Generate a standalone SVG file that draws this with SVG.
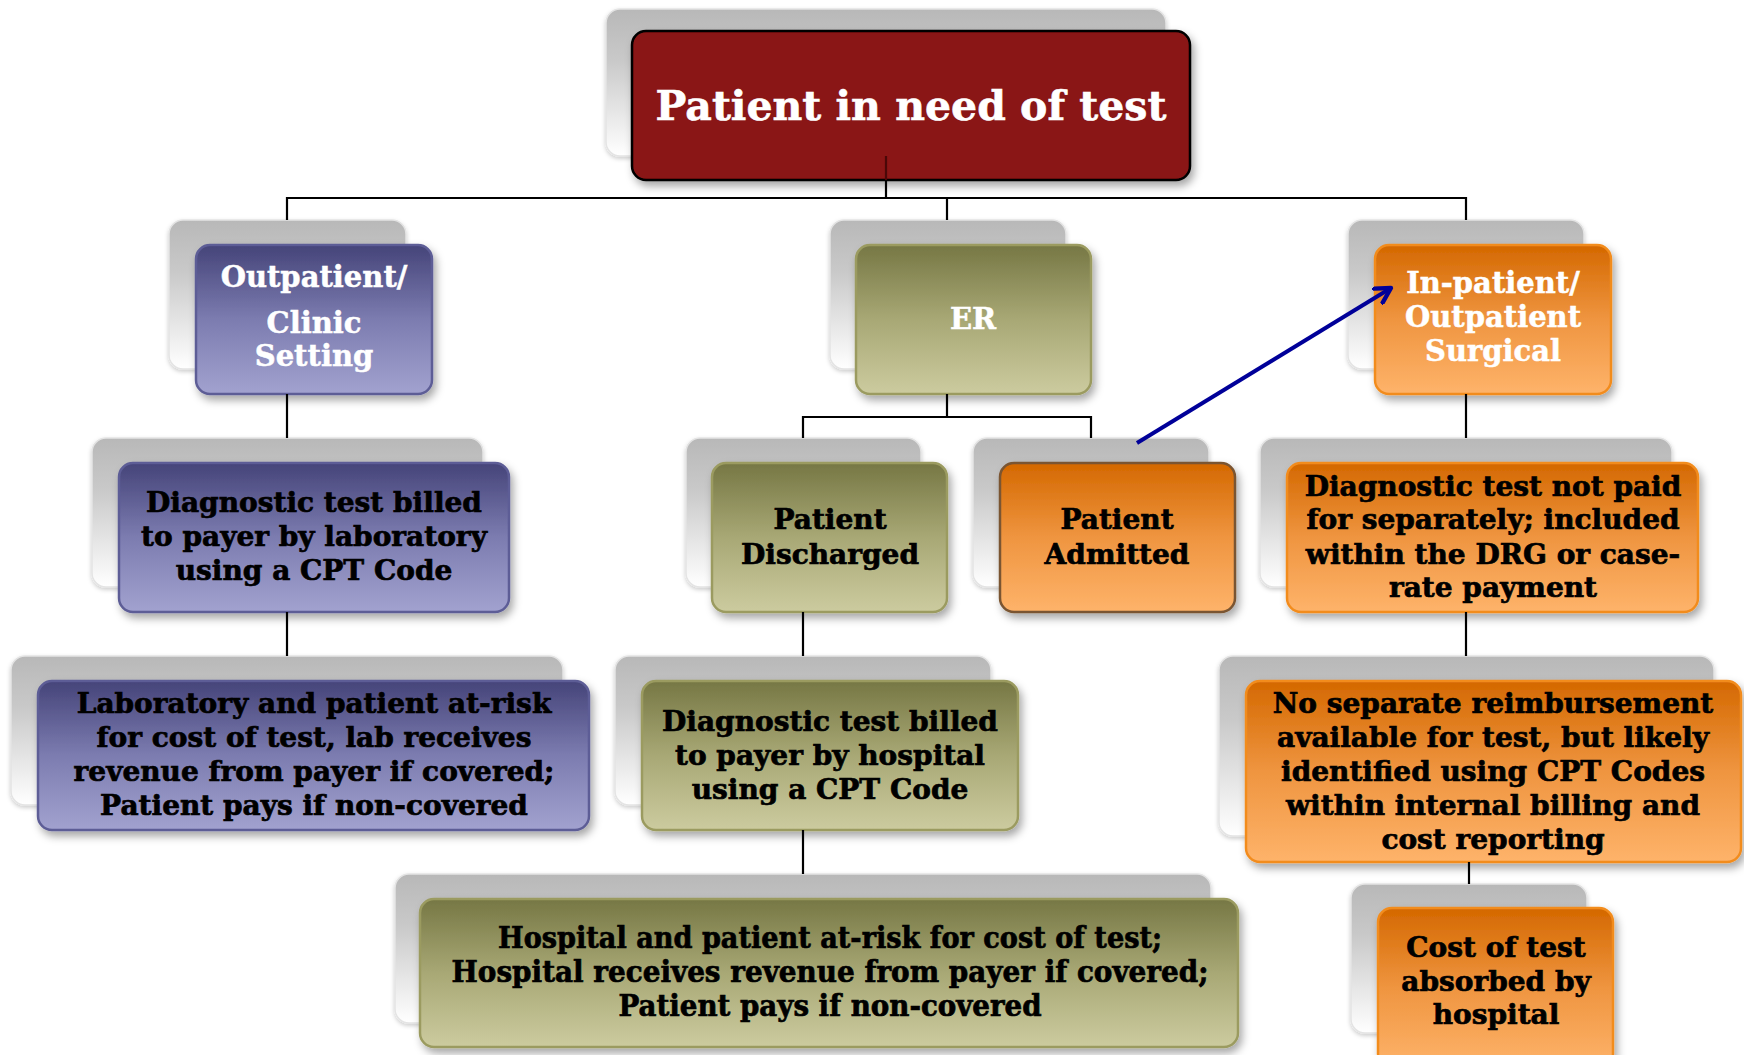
<svg xmlns="http://www.w3.org/2000/svg" width="1744" height="1055" viewBox="0 0 1744 1055">
<defs>
<linearGradient id="gCard" x1="0" y1="0" x2="0" y2="1">
<stop offset="0" stop-color="#b8b8b8"/><stop offset="0.35" stop-color="#c9c9c9"/><stop offset="1" stop-color="#ffffff"/>
</linearGradient>
<linearGradient id="gBlue" x1="0" y1="0" x2="0" y2="1">
<stop offset="0" stop-color="#454479"/><stop offset="0.5" stop-color="#7c7cb0"/><stop offset="1" stop-color="#a2a2cf"/>
</linearGradient>
<linearGradient id="gOlive" x1="0" y1="0" x2="0" y2="1">
<stop offset="0" stop-color="#767744"/><stop offset="0.5" stop-color="#a8a875"/><stop offset="1" stop-color="#cccb9f"/>
</linearGradient>
<linearGradient id="gOrange" x1="0" y1="0" x2="0" y2="1">
<stop offset="0" stop-color="#d46800"/><stop offset="0.5" stop-color="#ef9540"/><stop offset="1" stop-color="#feb36a"/>
</linearGradient>
<filter id="sh" x="-10%" y="-10%" width="125%" height="130%">
<feDropShadow dx="3" dy="5" stdDeviation="4" flood-color="#000" flood-opacity="0.35"/>
</filter>
<filter id="sh2" x="-10%" y="-10%" width="125%" height="130%">
<feDropShadow dx="0" dy="2" stdDeviation="2" flood-color="#000" flood-opacity="0.2"/>
</filter>
<marker id="arr" viewBox="0 0 12 12" refX="10" refY="6" markerWidth="5" markerHeight="5" orient="auto" markerUnits="strokeWidth">
<path d="M1,1 L10,6 L1,11" fill="none" stroke="#000099" stroke-width="2.6" stroke-linecap="round" stroke-linejoin="round"/>
</marker>
</defs>
<style>
.card{fill:url(#gCard);stroke:#e4e4e4;stroke-width:1.5;filter:url(#sh2)}
.red{fill:#8a1616;stroke:#000;stroke-width:2.5;filter:url(#sh)}
.blue{fill:url(#gBlue);stroke:#5d5d96;stroke-width:2.5;filter:url(#sh)}
.olive{fill:url(#gOlive);stroke:#9b9b60;stroke-width:2.5;filter:url(#sh)}
.orange{fill:url(#gOrange);stroke:#f28c1f;stroke-width:2.5;filter:url(#sh)}
.orange2{fill:url(#gOrange);stroke:#7a5430;stroke-width:2.5;filter:url(#sh)}
text{font-family:"DejaVu Serif","Liberation Serif",serif;font-weight:bold;text-anchor:middle}
.w{fill:#fff;font-size:29px;stroke:#fff;stroke-width:0.5}
.b{fill:#000;font-size:28px;stroke:#000;stroke-width:0.7}
.t{fill:#fff;font-size:41px;stroke:#fff;stroke-width:0.6}
.c{fill:#000;font-size:29px;stroke:#000;stroke-width:0.7}
.ln{fill:none;stroke:#000;stroke-width:2.2}
</style>
<g id="n-top">
<rect class="card" x="606" y="9" width="560" height="147" rx="14"/>
<rect class="red" x="632" y="31" width="558" height="149" rx="14"/>
<text class="t" x="911" y="120">Patient in need of test</text>
</g>
<g id="n-outpatient">
<rect class="card" x="169" y="220" width="237" height="149" rx="14"/>
<rect class="blue" x="196" y="245" width="236" height="149" rx="14"/>
<text class="w" x="314" y="287">Outpatient/</text>
<text class="w" x="314" y="333">Clinic</text>
<text class="w" x="314" y="366">Setting</text>
</g>
<g id="n-er">
<rect class="card" x="830" y="220" width="236" height="149" rx="14"/>
<rect class="olive" x="856" y="245" width="235" height="149" rx="14"/>
<text class="w" x="973" y="329">ER</text>
</g>
<g id="n-inpatient">
<rect class="card" x="1348" y="220" width="236" height="149" rx="14"/>
<rect class="orange" x="1375" y="245" width="236" height="149" rx="14"/>
<text class="w" x="1493" y="293">In-patient/</text>
<text class="w" x="1493" y="327">Outpatient</text>
<text class="w" x="1493" y="361">Surgical</text>
</g>
<g id="n-lab-billed">
<rect class="card" x="92" y="438" width="391" height="149" rx="14"/>
<rect class="blue" x="119" y="463" width="390" height="149" rx="14"/>
<text class="b" x="314" y="512">Diagnostic test billed</text>
<text class="b" x="314" y="546">to payer by laboratory</text>
<text class="b" x="314" y="580">using a CPT Code</text>
</g>
<g id="n-discharged">
<rect class="card" x="686" y="438" width="235" height="149" rx="14"/>
<rect class="olive" x="712" y="463" width="235" height="149" rx="14"/>
<text class="b" x="830" y="529">Patient</text>
<text class="b" x="830" y="564">Discharged</text>
</g>
<g id="n-admitted">
<rect class="card" x="973" y="438" width="236" height="149" rx="14"/>
<rect class="orange2" x="1000" y="463" width="235" height="149" rx="14"/>
<text class="b" x="1117" y="529">Patient</text>
<text class="b" x="1117" y="564">Admitted</text>
</g>
<g id="n-notpaid">
<rect class="card" x="1260" y="438" width="412" height="149" rx="14"/>
<rect class="orange" x="1287" y="463" width="411" height="149" rx="14"/>
<text class="b" x="1493" y="496">Diagnostic test not paid</text>
<text class="b" x="1493" y="529">for separately; included</text>
<text class="b" x="1493" y="564">within the DRG or case-</text>
<text class="b" x="1493" y="597">rate payment</text>
</g>
<g id="n-lab-risk">
<rect class="card" x="11" y="656" width="552" height="149" rx="14"/>
<rect class="blue" x="38" y="681" width="551" height="149" rx="14"/>
<text class="b" x="314" y="713">Laboratory and patient at-risk</text>
<text class="b" x="314" y="747">for cost of test, lab receives</text>
<text class="b" x="314" y="781">revenue from payer if covered;</text>
<text class="b" x="314" y="815">Patient pays if non-covered</text>
</g>
<g id="n-hosp-billed">
<rect class="card" x="615" y="656" width="376" height="149" rx="14"/>
<rect class="olive" x="642" y="681" width="376" height="149" rx="14"/>
<text class="b" x="830" y="731">Diagnostic test billed</text>
<text class="b" x="830" y="765">to payer by hospital</text>
<text class="b" x="830" y="799">using a CPT Code</text>
</g>
<g id="n-nosep">
<rect class="card" x="1219" y="656" width="495" height="180" rx="14"/>
<rect class="orange" x="1246" y="681" width="495" height="181" rx="14"/>
<text class="b" x="1493" y="713">No separate reimbursement</text>
<text class="b" x="1493" y="747">available for test, but likely</text>
<text class="b" x="1493" y="781">identified using CPT Codes</text>
<text class="b" x="1493" y="815">within internal billing and</text>
<text class="b" x="1493" y="849">cost reporting</text>
</g>
<g id="n-hosp-risk">
<rect class="card" x="395" y="874" width="816" height="149" rx="14"/>
<rect class="olive" x="420" y="899" width="818" height="148" rx="14"/>
<text class="c" x="830" y="948" textLength="664" lengthAdjust="spacingAndGlyphs">Hospital and patient at-risk for cost of test;</text>
<text class="c" x="830" y="982" textLength="757" lengthAdjust="spacingAndGlyphs">Hospital receives revenue from payer if covered;</text>
<text class="c" x="830" y="1016" textLength="423" lengthAdjust="spacingAndGlyphs">Patient pays if non-covered</text>
</g>
<g id="n-absorbed">
<rect class="card" x="1351" y="884" width="236" height="149" rx="14"/>
<rect class="orange" x="1378" y="908" width="235" height="160" rx="14"/>
<text class="b" x="1496" y="957">Cost of test</text>
<text class="b" x="1496" y="991">absorbed by</text>
<text class="b" x="1496" y="1024">hospital</text>
</g>
<g id="connectors">
<path d="M886,156 V180" fill="none" stroke="#4a0808" stroke-width="2.2"/>
<path class="ln" d="M886,180 V198 M287,220 V198 H1466 V220 M947,198 V220"/>
<path class="ln" d="M287,394 V438"/>
<path class="ln" d="M947,394 V417 M803,438 V417 H1091 V438"/>
<path class="ln" d="M1466,394 V438"/>
<path class="ln" d="M287,612 V656"/>
<path class="ln" d="M803,612 V656"/>
<path class="ln" d="M1466,612 V656"/>
<path class="ln" d="M803,830 V874"/>
<path class="ln" d="M1469,862 V884"/>
<path d="M1137,443 L1391,288" fill="none" stroke="#000099" stroke-width="4" marker-end="url(#arr)"/>
</g>
</svg>
